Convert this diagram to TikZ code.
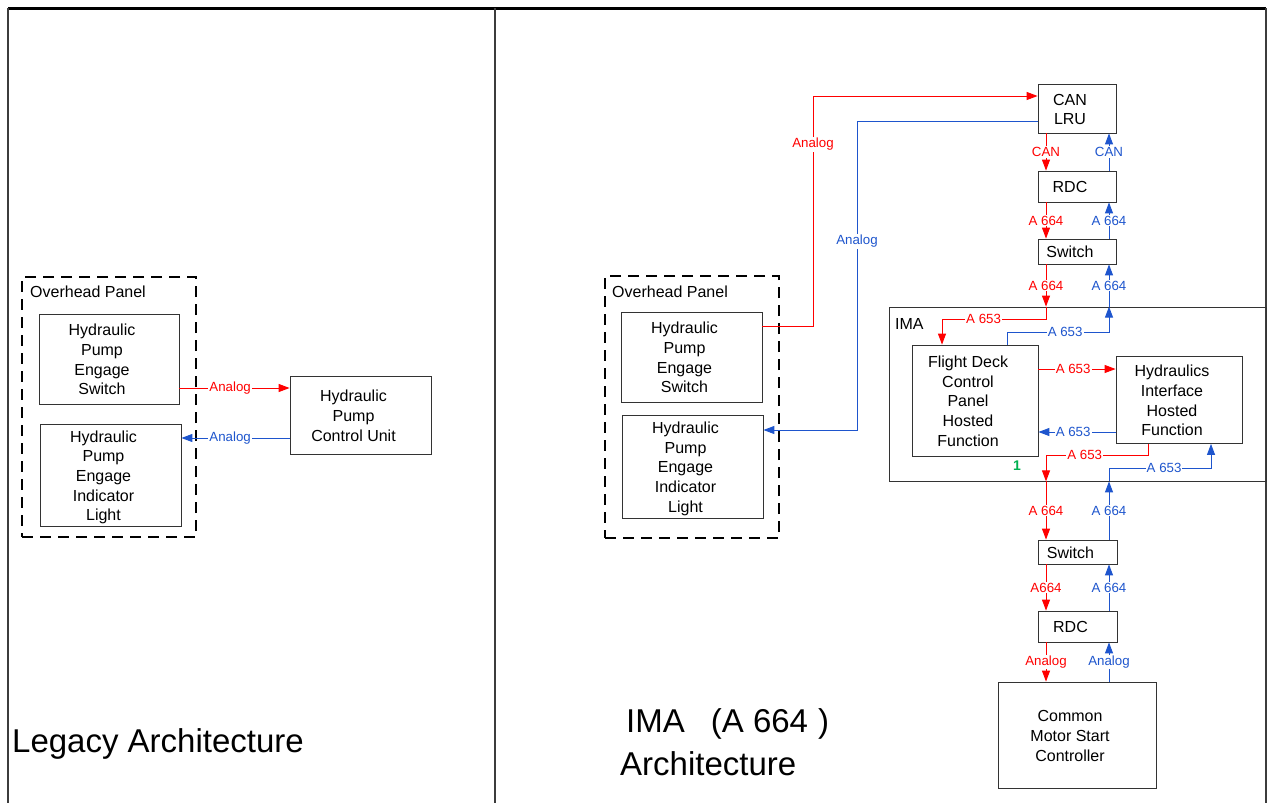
\documentclass[tikz,border=0pt]{standalone}
\usepackage{fontspec}
\setmainfont{Liberation Sans}
\usetikzlibrary{arrows.meta}

\definecolor{sigred}{RGB}{255,0,0}
\definecolor{sigblue}{RGB}{30,85,205}
\definecolor{markgreen}{RGB}{0,176,80}
\definecolor{framegray}{RGB}{60,60,60}

\newcommand{\bxfont}{\fontsize{16}{19.7}\selectfont}
\newcommand{\lbfont}{\fontsize{13.3}{15}\selectfont}
\newcommand{\ttlfont}{\fontsize{33}{40}\selectfont}
% multi-line box text, set a little left of and below the box centre
\newcommand{\boxtext}[1]{\raisebox{-2.5pt}[\height][\depth]{\begin{tabular}{@{}c@{}}#1\end{tabular}}\kern14pt\relax}

\tikzset{
  box/.style={draw=black!80, line width=0.8pt, inner sep=0pt, font=\bxfont},
  panel/.style={draw=black, line width=2.8pt, dash pattern=on 11pt off 7pt},
  sig/.style={line width=1pt},
  rsig/.style={sig, draw=sigred, -{Triangle[length=11pt,width=8pt]}},
  bsig/.style={sig, draw=sigblue, -{Triangle[length=11pt,width=8pt]}},
  lab/.style={fill=white, inner sep=1pt, font=\lbfont},
  rlab/.style={lab, text=sigred},
  blab/.style={lab, text=sigblue},
  ttl/.style={anchor=west, inner sep=0pt, font=\ttlfont},
  caption/.style={anchor=west, inner sep=0pt, font=\bxfont}
}

\begin{document}
\begin{tikzpicture}[x=1pt, y=-1pt]
\useasboundingbox (0,0) rectangle (1268,803);

% outer frame and divider
\draw[line width=3pt, black] (8,8) -- (1266,8);
\draw[line width=2pt, framegray] (8,8) -- (8,803);
\draw[line width=2pt, framegray] (495,8) -- (495,803);
\draw[line width=2pt, framegray] (1266,8) -- (1266,803);

% ---------------- legacy architecture ----------------
\node[panel, minimum width=174pt, minimum height=260pt] (lop) at (109,407) {};
\node[caption] (loplbl) at (30,292) {Overhead Panel};
\node[box, minimum width=140pt, minimum height=90pt] (lsw) at (109,359)
  {\boxtext{Hydraulic\\Pump\\Engage\\Switch}};
\node[box, minimum width=141pt, minimum height=102pt] (lind) at (110.5,475)
  {\boxtext{Hydraulic\\Pump\\Engage\\Indicator\\Light}};
\node[box, minimum width=141pt, minimum height=78pt] (lcu) at (360.5,415)
  {\boxtext{Hydraulic\\Pump\\Control Unit}};

\draw[rsig] (lsw.east |- 0,388) -- node[rlab, pos=0.46] {Analog} (lcu.west |- 0,388);
\draw[bsig] (lcu.west |- 0,438) -- node[blab, pos=0.55] {Analog} (lind.east |- 0,438);

\node[ttl] (lttl) at (12,744) {Legacy Architecture};

% ---------------- IMA architecture ----------------
\node[panel, minimum width=174pt, minimum height=262pt] (rop) at (692,407) {};
\node[caption] (roplbl) at (612,292) {Overhead Panel};
\node[box, minimum width=141pt, minimum height=90pt] (rsw) at (691.5,357)
  {\boxtext{Hydraulic\\Pump\\Engage\\Switch}};
\node[box, minimum width=141pt, minimum height=103pt] (rind) at (692.5,466.5)
  {\boxtext{Hydraulic\\Pump\\Engage\\Indicator\\Light}};

\node[box, minimum width=78pt, minimum height=49pt] (can) at (1077,108.5)
  {\boxtext{CAN\\LRU}};
\node[box, minimum width=78pt, minimum height=31pt] (rdcA) at (1077,186.5)
  {\boxtext{RDC}};
\node[box, minimum width=78pt, minimum height=25pt] (swA) at (1077,251.5)
  {\boxtext{Switch}};

\node[box, minimum width=377pt, minimum height=174pt] (ima) at (1077.5,394) {};
\node[caption] (imalbl) at (895,324) {IMA};
\node[box, minimum width=126pt, minimum height=111pt] (fdcp) at (975,400.5)
  {\boxtext{Flight Deck\\Control\\Panel\\Hosted\\Function}};
\node[box, minimum width=126pt, minimum height=87pt] (hihf) at (1179,400)
  {\boxtext{Hydraulics\\Interface\\Hosted\\Function}};
\node[inner sep=0pt, font=\fontsize{14}{16}\selectfont\bfseries, text=markgreen] (mark) at (1017,466) {1};

\node[box, minimum width=79pt, minimum height=24pt] (swB) at (1077.5,552)
  {\boxtext{Switch}};
\node[box, minimum width=79pt, minimum height=31pt] (rdcB) at (1077.5,626.5)
  {\boxtext{RDC}};
\node[box, minimum width=158pt, minimum height=106pt] (cmsc) at (1077,735)
  {\boxtext{Common\\Motor Start\\Controller}};

\coordinate (rx) at (1046,0);
\coordinate (bx) at (1109,0);

% overhead panel to CAN LRU
\draw[rsig] (rsw.east |- 0,326) -- (813,326) -- node[rlab, pos=0.79] {Analog} (813,96) -- (can.west |- 0,96);
\draw[bsig] (can.west |- 0,121) -- (857,121) -- node[blab, pos=0.39] {Analog} (857,430) -- (rind.east |- 0,430);

% upper chain
\draw[rsig] (can.south -| rx) -- node[rlab] {CAN} (rdcA.north -| rx);
\draw[bsig] (rdcA.north -| bx) -- node[blab] {CAN} (can.south -| bx);
\draw[rsig] (rdcA.south -| rx) -- node[rlab] {A 664} (swA.north -| rx);
\draw[bsig] (swA.north -| bx) -- node[blab] {A 664} (rdcA.south -| bx);
\draw[rsig] (swA.south -| rx) -- node[rlab] {A 664} (ima.north -| rx);
\draw[bsig] (ima.north -| bx) -- node[blab] {A 664} (swA.south -| bx);

% inside the IMA
\draw[rsig] (ima.north -| rx) -- (1046,319) -- node[rlab, pos=0.6] {A 653} (942,319) -- (fdcp.north -| 942,0);
\draw[bsig] (fdcp.north -| 1007,0) -- (1007,332) -- node[blab, pos=0.57] {A 653} (1109,332) -- (ima.north -| bx);
\draw[rsig] (fdcp.east |- 0,369) -- node[rlab, pos=0.45] {A 653} (hihf.west |- 0,369);
\draw[bsig] (hihf.west |- 0,432) -- node[blab, pos=0.55] {A 653} (fdcp.east |- 0,432);
\draw[rsig] (hihf.south -| 1148,0) -- (1148,455) -- node[rlab, pos=0.62] {A 653} (1046,455) -- (ima.south -| rx);
\draw[bsig] (ima.south -| bx) -- (1109,468) -- node[blab, pos=0.54] {A 653} (1211,468) -- (hihf.south -| 1211,0);

% lower chain
\draw[rsig] (ima.south -| rx) -- node[rlab] {A 664} (swB.north -| rx);
\draw[bsig] (swB.north -| bx) -- node[blab] {A 664} (ima.south -| bx);
\draw[rsig] (swB.south -| rx) -- node[rlab] {A664} (rdcB.north -| rx);
\draw[bsig] (rdcB.north -| bx) -- node[blab] {A 664} (swB.south -| bx);
\draw[rsig] (rdcB.south -| rx) -- node[rlab] {Analog} (cmsc.north -| rx);
\draw[bsig] (cmsc.north -| bx) -- node[blab] {Analog} (rdcB.south -| bx);

\node[ttl] (rttlA) at (626,724) {IMA\hspace{26pt}(A 664\hspace{10pt})};
\node[ttl] (rttlB) at (620,764) {Architecture};

\end{tikzpicture}
\end{document}
